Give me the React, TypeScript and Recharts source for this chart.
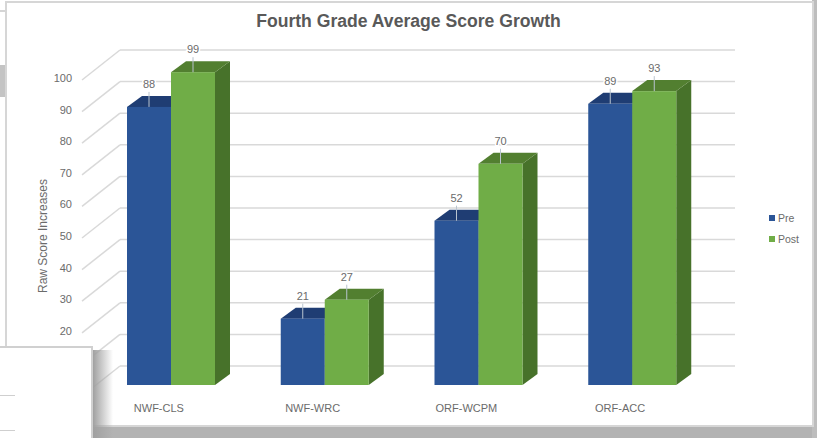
import React from "react";
import {
  BarChart,
  Bar,
  XAxis,
  YAxis,
  CartesianGrid,
  Legend,
  LabelList,
} from "recharts";

const categories = ["NWF-CLS", "NWF-WRC", "ORF-WCPM", "ORF-ACC"];
const preValues = [88, 21, 52, 89];
const postValues = [99, 27, 70, 93];
const yTicks = [0, 10, 20, 30, 40, 50, 60, 70, 80, 90, 100];

const data = categories.map((name, i) => ({
  name,
  Pre: preValues[i],
  Post: postValues[i],
}));

// the plot area is the back wall, bars get pushed forward onto the floor
const FRONT_X = -26;
const FRONT_Y = 19;
const DEPTH_X = 15;
const DEPTH_Y = -11;

const FONT = "'Liberation Sans', Arial, sans-serif";

const Bar3D = (topColor: string, sideColor: string) => (props: any) => {
  const { x, y, width, height, fill } = props;
  const l = x + FRONT_X;
  const r = l + width;
  const t = y + FRONT_Y;
  const b = t + height;
  return (
    <g>
      <polygon
        points={`${r},${t} ${r + DEPTH_X},${t + DEPTH_Y} ${r + DEPTH_X},${b + DEPTH_Y} ${r},${b}`}
        fill={sideColor}
      />
      <polygon
        points={`${l},${t} ${l + DEPTH_X},${t + DEPTH_Y} ${r + DEPTH_X},${t + DEPTH_Y} ${r},${t}`}
        fill={topColor}
      />
      <rect x={l} y={t} width={width} height={height} fill={fill} />
    </g>
  );
};

const ValueLabel = (props: any) => {
  const { x, y, width, value } = props;
  const cx = x + FRONT_X + width / 2;
  const top = y + FRONT_Y;
  return (
    <g>
      <line x1={cx} x2={cx} y1={top} y2={top - 15} stroke="#b9c4cf" strokeWidth={1} />
      <text
        x={cx}
        y={top - 23}
        textAnchor="middle"
        dominantBaseline="central"
        fontSize={11}
        fontFamily={FONT}
        fill="#6b6b6b"
        stroke="#fff"
        strokeWidth={3}
        paintOrder="stroke"
      >
        {value}
      </text>
    </g>
  );
};

const WallTick = (props: any) => {
  const { y, payload } = props;
  return (
    <g>
      <line x1={120} y1={y} x2={82} y2={y + 30} stroke="#d9d9d9" strokeWidth={1.5} />
      <text
        x={72}
        y={y + 28}
        textAnchor="end"
        dominantBaseline="central"
        fontSize={11}
        fontFamily={FONT}
        fill="#6b6b6b"
      >
        {payload.value}
      </text>
    </g>
  );
};

const CategoryTick = (props: any) => {
  const { x, payload } = props;
  return (
    <text
      x={x - 38}
      y={408}
      textAnchor="middle"
      dominantBaseline="central"
      fontSize={11}
      fontFamily={FONT}
      fill="#6b6b6b"
    >
      {payload.value}
    </text>
  );
};

const AxisTitle = () => (
  <text
    x={43}
    y={236}
    textAnchor="middle"
    dominantBaseline="central"
    transform="rotate(-90 43 236)"
    fontSize={12}
    fontFamily={FONT}
    fill="#6b6b6b"
  >
    Raw Score Increases
  </text>
);

const LegendBox = ({ payload }: any) => (
  <div style={{ fontFamily: FONT, fontSize: 10.5, color: "#6b6b6b" }}>
    {(payload || []).map((item: any) => (
      <div
        key={item.value}
        style={{ display: "flex", alignItems: "center", height: 21 }}
      >
        <span
          style={{
            display: "inline-block",
            width: 6,
            height: 6,
            marginRight: 3,
            background: item.color,
          }}
        />
        {item.value}
      </div>
    ))}
  </div>
);

const box = (style: React.CSSProperties) => (
  <div style={{ position: "absolute", ...style }} />
);

export default function App() {
  return (
    <div
      style={{
        position: "fixed",
        left: 0,
        top: 0,
        width: 817,
        height: 438,
        overflow: "hidden",
        background: "#fff",
      }}
    >
      {/* backdrop: the slide the chart was pasted on */}
      {box({ left: 0, top: 425, width: 817, height: 13, background: "#b3b3b3" })}
      {box({ left: 812, top: 0, width: 5, height: 438, background: "#bdbdbd" })}
      {box({ left: 0, top: 65, width: 5, height: 32, background: "#c4c4c4" })}
      {box({ left: 0, top: 10, width: 6, height: 2, background: "#d5d5d5" })}
      {box({
        left: 5,
        top: 1,
        width: 805,
        height: 422,
        background: "#fff",
        border: "2px solid #d6d6d6",
      })}

      <div style={{ position: "absolute", left: 0, top: 0 }}>
        <BarChart
          width={817}
          height={438}
          data={data}
          barSize={44}
          barGap={0}
          margin={{ top: 50, right: 37, bottom: 42, left: 60 }}
        >
          <CartesianGrid
            vertical={false}
            stroke="#d9d9d9"
            strokeWidth={1.5}
            syncWithTicks
          />
          <XAxis
            dataKey="name"
            height={30}
            axisLine={false}
            tickLine={false}
            tick={<CategoryTick />}
            interval={0}
          />
          <YAxis
            width={60}
            domain={[0, 100]}
            ticks={yTicks}
            axisLine={false}
            tickLine={false}
            tick={<WallTick />}
            interval={0}
            label={<AxisTitle />}
          />
          <Legend
            content={<LegendBox />}
            layout="vertical"
            align="right"
            verticalAlign="middle"
            itemSorter={null}
            wrapperStyle={{ left: 769, top: 207, width: 45 }}
          />
          <Bar
            dataKey="Pre"
            fill="#2b5597"
            isAnimationActive={false}
            shape={Bar3D("#1f3d73", "#1f3d73")}
          >
            <LabelList dataKey="Pre" content={<ValueLabel />} />
          </Bar>
          <Bar
            dataKey="Post"
            fill="#70ad47"
            isAnimationActive={false}
            shape={Bar3D("#527f30", "#47722a")}
          >
            <LabelList dataKey="Post" content={<ValueLabel />} />
          </Bar>
        </BarChart>
      </div>

      <div
        style={{
          position: "absolute",
          left: 0,
          width: 817,
          top: 10,
          textAlign: "center",
          fontFamily: FONT,
          fontWeight: 700,
          fontSize: 17.6,
          lineHeight: "22px",
          color: "#595959",
        }}
      >
        Fourth Grade Average Score Growth
      </div>

      {/* sheet of paper overlapping the lower left corner */}
      {box({
        left: 93,
        top: 350,
        width: 20,
        height: 88,
        background: "linear-gradient(to right, #a0a0a0, rgba(255,255,255,0))",
      })}
      {box({
        left: 0,
        top: 346,
        width: 91,
        height: 92,
        background: "#fff",
        borderTop: "2px solid #d0d0d0",
        borderRight: "2px solid #d0d0d0",
      })}
      {box({ left: 0, top: 395, width: 15, height: 1, background: "#cfcfcf" })}
      {box({ left: 0, top: 430, width: 15, height: 1, background: "#cfcfcf" })}
    </div>
  );
}
